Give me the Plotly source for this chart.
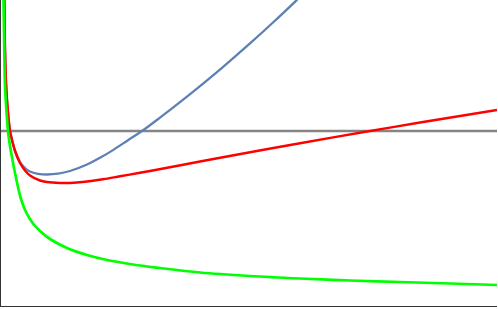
import plotly.graph_objects as go

# Horizontal reference level
level_x = [0.0, 9.92]
level_y = [3.5, 3.5]

# Green curve
green_x = [0.04, 0.05, 0.064, 0.08, 0.10, 0.12, 0.14, 0.18, 0.23, 0.28, 0.34, 0.40, 0.50, 0.64,
           0.78, 0.98, 1.32, 1.72, 2.12, 2.64, 3.18, 3.98, 4.98, 5.98, 6.98, 7.98, 8.98, 9.92]
green_y = [6.42, 6.12, 5.22, 4.42, 4.04, 3.74, 3.50, 3.20, 2.92, 2.66, 2.38, 2.14, 1.88, 1.65,
           1.50, 1.34, 1.16, 1.02, 0.92, 0.83, 0.76, 0.67, 0.60, 0.55, 0.51, 0.48, 0.45, 0.42]

# Red curve
red_x = [0.058, 0.066, 0.08, 0.10, 0.12, 0.15, 0.18, 0.23, 0.28, 0.38, 0.48, 0.58, 0.78, 0.92,
         1.18, 1.38, 1.68, 2.04, 2.38, 2.78, 2.98, 3.98, 4.98, 5.98, 7.32, 8.38, 9.92]
red_y = [6.42, 6.12, 5.12, 4.48, 4.12, 3.76, 3.50, 3.28, 3.10, 2.86, 2.71, 2.61, 2.51, 2.48,
         2.46, 2.46, 2.484, 2.534, 2.594, 2.664, 2.70, 2.89, 3.075, 3.255, 3.49, 3.668, 3.918]

# Blue curve
blue_x = [0.058, 0.066, 0.08, 0.10, 0.12, 0.15, 0.18, 0.23, 0.28, 0.38, 0.48, 0.58, 0.74, 0.92,
          1.14, 1.38, 1.72, 1.98, 2.24, 2.54, 2.82, 3.18, 3.72, 3.98, 4.42, 4.98, 5.44, 5.90, 6.18]
blue_y = [6.42, 6.12, 5.12, 4.48, 4.12, 3.76, 3.50, 3.28, 3.11, 2.88, 2.76, 2.69, 2.644, 2.63,
          2.646, 2.70, 2.83, 2.964, 3.118, 3.316, 3.50, 3.768, 4.188, 4.398, 4.764, 5.252, 5.67,
          6.104, 6.376]

fig = go.Figure()
fig.add_trace(go.Scatter(x=level_x, y=level_y, mode="lines",
                         line=dict(color="#858585", width=2.6)))
fig.add_trace(go.Scatter(x=blue_x, y=blue_y, mode="lines",
                         line=dict(color="#5E81B5", width=2.3, shape="spline", smoothing=1.0)))
fig.add_trace(go.Scatter(x=red_x, y=red_y, mode="lines",
                         line=dict(color="#FF0000", width=2.5, shape="spline", smoothing=1.0)))
fig.add_trace(go.Scatter(x=green_x, y=green_y, mode="lines",
                         line=dict(color="#00FF00", width=2.7, shape="spline", smoothing=1.0)))

axis_common = dict(showgrid=False, zeroline=False, showticklabels=False, ticks="",
                   showline=True, linecolor="#333333", linewidth=1)
fig.update_layout(
    width=498, height=309,
    margin=dict(l=1, r=1, t=0, b=3),
    paper_bgcolor="white", plot_bgcolor="white",
    showlegend=False,
    hovermode=False,
    xaxis=dict(range=[0, 9.92], **axis_common),
    yaxis=dict(range=[0, 6.12], **axis_common),
)
fig.write_html("out.html",
               config={"displayModeBar": False, "staticPlot": True},
               post_script="document.body.style.margin='0';document.body.style.padding='0';")
